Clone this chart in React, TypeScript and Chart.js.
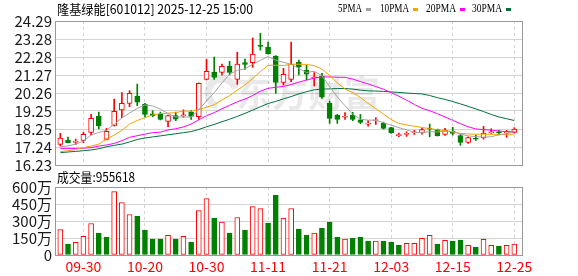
import React, { useEffect, useRef } from "react";
import { Chart, registerables } from "chart.js";

Chart.register(...registerables);

// ---------------- data ----------------
const stockName = "隆基绿能";
const stockCode = "601012";
const stamp = "2025-12-25 15:00";

const dates = [
  "09-25", "09-26", "09-29", "09-30", "10-09", "10-10", "10-13", "10-14", "10-15", "10-16",
  "10-17", "10-20", "10-21", "10-22", "10-23", "10-24", "10-27", "10-28", "10-29", "10-30",
  "10-31", "11-03", "11-04", "11-05", "11-06", "11-07", "11-10", "11-11", "11-12", "11-13",
  "11-14", "11-17", "11-18", "11-19", "11-20", "11-21", "11-24", "11-25", "11-26", "11-27",
  "11-28", "12-01", "12-02", "12-03", "12-04", "12-05", "12-08", "12-09", "12-10", "12-11",
  "12-12", "12-15", "12-16", "12-17", "12-18", "12-19", "12-22", "12-23", "12-24", "12-25",
];

const openP = [
  17.38, 17.63, 17.50, 17.61, 18.06, 18.95, 17.66, 18.45, 19.31, 19.68,
  20.09, 19.62, 19.10, 19.06, 18.67, 18.99, 18.99, 19.19, 18.93, 21.02,
  21.43, 21.41, 21.77, 21.02, 21.96, 21.96, 22.93, 22.81, 22.33, 20.85,
  21.02, 21.97, 21.54, 21.12, 21.21, 19.68, 19.03, 18.91, 19.03, 18.76,
  18.52, 18.73, 18.56, 18.32, 17.87, 17.94, 18.02, 18.04, 18.28, 18.21,
  17.94, 18.11, 17.87, 17.50, 17.72, 17.74, 18.04, 18.09, 18.02, 18.06,
];
const highP = [
  18.00, 17.79, 17.68, 18.06, 19.06, 19.19, 18.28, 19.92, 20.28, 20.39,
  20.76, 19.68, 19.27, 19.19, 19.03, 19.19, 19.32, 19.27, 20.82, 22.14,
  22.27, 21.88, 22.03, 22.55, 22.16, 23.34, 23.60, 23.11, 22.35, 21.64,
  23.11, 22.10, 21.81, 21.40, 21.36, 19.80, 19.06, 19.16, 19.18, 19.06,
  18.71, 18.88, 18.63, 18.34, 18.02, 18.09, 18.17, 18.28, 18.52, 18.24,
  18.28, 18.34, 17.94, 17.81, 17.91, 18.39, 18.26, 18.17, 18.17, 18.32,
];
const lowP = [
  17.29, 17.46, 17.38, 17.48, 17.91, 18.26, 17.63, 18.41, 18.88, 19.49,
  19.55, 18.93, 18.93, 18.75, 18.37, 18.71, 18.90, 18.78, 18.78, 20.99,
  21.02, 21.27, 21.27, 20.74, 21.58, 21.70, 22.66, 22.44, 20.24, 20.71,
  20.89, 21.27, 20.99, 20.65, 19.96, 18.56, 18.56, 18.78, 18.71, 18.54,
  18.41, 18.50, 18.24, 18.00, 17.81, 17.83, 17.94, 17.96, 17.81, 17.85,
  17.89, 17.91, 17.33, 17.44, 17.61, 17.68, 18.00, 17.91, 17.78, 18.02,
];
const closeP = [
  17.74, 17.48, 17.55, 17.94, 18.84, 18.43, 18.11, 19.23, 19.68, 20.24,
  19.74, 19.06, 18.99, 18.78, 18.99, 18.80, 19.04, 18.95, 20.80, 21.47,
  21.13, 21.75, 21.41, 21.88, 21.86, 22.44, 22.87, 22.46, 20.85, 21.30,
  21.86, 21.73, 21.32, 21.17, 20.02, 18.84, 18.78, 18.95, 18.78, 18.62,
  18.58, 18.76, 18.28, 18.04, 17.93, 18.00, 18.06, 18.21, 18.24, 17.87,
  18.17, 18.00, 17.50, 17.76, 17.68, 18.02, 18.09, 18.04, 18.09, 18.24,
];

const ma5 = [
  17.25, 17.30, 17.40, 17.56, 17.91, 18.05, 18.17, 18.51, 18.86, 19.14,
  19.40, 19.59, 19.54, 19.36, 19.11, 18.92, 18.92, 18.91, 19.32, 19.81,
  20.28, 20.82, 21.31, 21.53, 21.61, 21.87, 22.09, 22.30, 22.10, 21.98,
  21.87, 21.64, 21.41, 21.48, 21.22, 20.62, 20.03, 19.55, 19.07, 18.79,
  18.74, 18.74, 18.60, 18.46, 18.32, 18.20, 18.06, 18.05, 18.09, 18.08,
  18.11, 18.10, 17.96, 17.86, 17.82, 17.79, 17.81, 17.92, 17.98, 18.10,
];
const ma10 = [
  16.97, 17.03, 17.10, 17.20, 17.29, 17.40, 17.68, 17.90, 18.17, 18.52,
  18.72, 18.88, 19.03, 19.11, 19.13, 19.16, 19.26, 19.23, 19.34, 19.46,
  19.60, 19.87, 20.11, 20.42, 20.71, 21.07, 21.46, 21.81, 21.81, 21.80,
  21.87, 21.87, 21.86, 21.79, 21.60, 21.24, 20.83, 20.48, 20.28, 20.01,
  19.68, 19.38, 19.08, 18.77, 18.56, 18.47, 18.40, 18.33, 18.27, 18.20,
  18.16, 18.08, 18.00, 17.97, 17.95, 17.95, 17.95, 17.94, 17.92, 17.96,
];
const ma20 = [
  17.16, 17.16, 17.16, 17.17, 17.20, 17.29, 17.35, 17.44, 17.59, 17.78,
  17.87, 17.96, 18.04, 18.07, 18.19, 18.26, 18.36, 18.52, 18.76, 18.99,
  19.16, 19.38, 19.57, 19.77, 19.92, 20.12, 20.36, 20.52, 20.58, 20.63,
  20.73, 20.87, 20.98, 21.10, 21.16, 21.16, 21.14, 21.14, 21.04, 20.90,
  20.77, 20.62, 20.47, 20.28, 20.08, 19.86, 19.62, 19.40, 19.27, 19.10,
  18.92, 18.73, 18.54, 18.37, 18.25, 18.21, 18.18, 18.13, 18.10, 18.08,
];
const ma30 = [
  16.92, 16.96, 16.99, 17.03, 17.07, 17.14, 17.25, 17.33, 17.40, 17.52,
  17.66, 17.74, 17.80, 17.86, 17.92, 17.98, 18.04, 18.10, 18.22, 18.37,
  18.50, 18.65, 18.79, 18.95, 19.12, 19.30, 19.49, 19.67, 19.79, 19.93,
  20.06, 20.21, 20.33, 20.44, 20.48, 20.49, 20.51, 20.51, 20.48, 20.42,
  20.38, 20.37, 20.35, 20.32, 20.29, 20.26, 20.23, 20.21, 20.12, 20.00,
  19.90, 19.78, 19.65, 19.51, 19.37, 19.22, 19.06, 18.92, 18.82, 18.72,
];

// volume in 万 (10k shares)
const volume = [
  225, 97, 111, 164, 278, 193, 158, 559, 462, 357,
  342, 220, 140, 140, 173, 140, 164, 114, 392, 498,
  325, 290, 193, 331, 220, 427, 410, 281, 527, 325,
  410, 228, 176, 193, 237, 290, 158, 140, 149, 158,
  123, 123, 123, 114, 88, 102, 102, 146, 173, 97,
  129, 123, 132, 85, 70, 138, 85, 79, 85, 95.5618,
];
// 1 = rising day (red hollow volume bar), 0 = falling day (green filled)
const volumeUp = [
  1, 0, 1, 1, 1, 0, 0, 1, 1, 1,
  0, 0, 0, 0, 1, 0, 1, 0, 1, 1,
  0, 1, 0, 1, 0, 1, 1, 0, 0, 1,
  1, 0, 0, 1, 0, 0, 0, 1, 0, 0,
  0, 1, 0, 0, 0, 1, 1, 1, 1, 0,
  1, 0, 0, 1, 0, 1, 1, 0, 1, 1,
];
const lastVolume = "955618";

const priceMin = 16.23;
const priceMax = 24.29;
const priceTickLabels = ["16.23", "17.24", "18.25", "19.25", "20.26", "21.27", "22.28", "23.28", "24.29"];
const volumeTickValues = [0, 150, 300, 450, 600];
const volumeTickLabels = ["0", "150万", "300万", "450万", "600万"];
const xTickLabels = ["09-30", "10-20", "10-30", "11-11", "11-21", "12-03", "12-15", "12-25"];
const maNames = ["5PMA", "10PMA", "20PMA", "30PMA"];

// ---------------- style ----------------
const W = 578;
const H = 276;
const X_MIN = -0.69;
const X_MAX = 60.0;
const RED = "#ff0000";
const GREEN = "#008000";
const MA_COLORS = ["#a3a3a3", "#f2a400", "#ff00ff", "#00703a"];
const FRAME = "#999999";
const GRID = "#d4d4d4";
const NARROW = "'Liberation Sans Narrow', 'Arial Narrow', 'Noto Sans CJK SC', sans-serif";
const CJK = "'Noto Sans CJK SC', 'Liberation Sans Narrow', sans-serif";

const xScale = (showLabels: boolean) => ({
  type: "linear" as const,
  min: X_MIN,
  max: X_MAX,
  offset: false,
  bounds: "data" as const,
  afterBuildTicks: (s: any) => {
    s.ticks = xTickLabels.map((l) => ({ value: dates.indexOf(l) }));
  },
  afterFit: (s: any) => {
    s.height = showLabels ? 21 : 0;
  },
  grid: { color: GRID, lineWidth: 1, drawTicks: false, offset: false },
  border: { display: false, dash: [3, 3] },
  ticks: {
    display: showLabels,
    autoSkip: false,
    maxRotation: 0,
    padding: 3,
    color: RED,
    font: { family: NARROW, size: 14 },
    callback: (v: any) => dates[Math.round(Number(v))],
  },
});

const yScale = (min: number, max: number, values: number[], labels: string[]) => ({
  type: "linear" as const,
  min,
  max,
  afterBuildTicks: (s: any) => {
    s.ticks = values.map((v) => ({ value: v }));
  },
  afterFit: (s: any) => {
    s.width = 55;
  },
  grid: { color: GRID, drawTicks: false },
  border: { display: false },
  ticks: {
    autoSkip: false,
    padding: 3,
    color: "#1a1a1a",
    font: { family: NARROW, size: 15 },
    callback: (_v: any, i: number) => labels[i],
  },
});

const framePlugin = {
  id: "frame",
  beforeDatasetsDraw(chart: any) {
    const { ctx, chartArea: a } = chart;
    ctx.save();
    ctx.strokeStyle = FRAME;
    ctx.lineWidth = 1;
    ctx.strokeRect(
      Math.round(a.left) + 0.5,
      Math.round(a.top) + 0.5,
      Math.round(a.right) - Math.round(a.left),
      Math.round(a.bottom) - Math.round(a.top)
    );
    ctx.restore();
  },
};

const watermarkPlugin = {
  id: "watermark",
  beforeDatasetsDraw(chart: any) {
    const { ctx } = chart;
    ctx.save();
    ctx.fillStyle = "rgba(0,0,0,0.085)";
    ctx.strokeStyle = "rgba(0,0,0,0.085)";
    ctx.lineWidth = 7;
    ctx.beginPath();
    ctx.arc(222, 93, 14, Math.PI * 0.6, Math.PI * 1.9);
    ctx.stroke();
    ctx.font = `bold 36px ${CJK}`;
    ctx.textBaseline = "middle";
    ctx.textAlign = "left";
    ctx.fillText("东方财富", 236, 93, 146);
    ctx.restore();
  },
};

const textPlugin = {
  id: "texts",
  afterDraw(chart: any) {
    const { ctx } = chart;
    ctx.save();
    ctx.textBaseline = "middle";
    ctx.textAlign = "left";
    ctx.fillStyle = "#000";
    ctx.font = `13px ${CJK}`;
    ctx.fillText(`${stockName}[${stockCode}] ${stamp}`, 57, 9, 196);

    const legendX = [338, 380, 426, 472];
    const legendW = [24, 29, 30, 30];
    ctx.font = "13px 'Liberation Serif', serif";
    maNames.forEach((n, i) => {
      ctx.fillStyle = "#000";
      ctx.fillText(n, legendX[i], 9, legendW[i]);
      ctx.fillStyle = MA_COLORS[i];
      ctx.fillRect(legendX[i] + legendW[i] + 4, 8, 5, 3);
    });

    ctx.fillStyle = "#000";
    ctx.font = `13px ${CJK}`;
    ctx.fillText(`成交量:${lastVolume}`, 57, 177, 78);
    ctx.restore();
  },
};

export default function App() {
  const priceRef = useRef<HTMLCanvasElement>(null);
  const volRef = useRef<HTMLCanvasElement>(null);

  useEffect(() => {
    const up = closeP.map((c, i) => c >= openP[i]);
    const maSets = [ma5, ma10, ma20, ma30].map((arr, k) => ({
      type: "line" as const,
      label: maNames[k],
      data: arr.map((v, i) => ({ x: i, y: v })),
      borderColor: MA_COLORS[k],
      borderWidth: 1,
      pointRadius: 0,
      tension: 0,
      order: k + 1,
    }));
    const priceTickValues = priceTickLabels.map(
      (_, i) => priceMin + (i * (priceMax - priceMin)) / (priceTickLabels.length - 1)
    );

    const price = new Chart(priceRef.current as HTMLCanvasElement, {
      type: "bar",
      data: {
        datasets: [
          ...maSets,
          {
            type: "bar" as const,
            label: "body",
            data: openP.map((o, i) => ({ x: i, y: [Math.min(o, closeP[i]), Math.max(o, closeP[i])] })) as any,
            backgroundColor: up.map((u) => (u ? "#ffffff" : GREEN)),
            borderColor: up.map((u) => (u ? RED : GREEN)),
            borderWidth: 1,
            borderSkipped: false,
            barThickness: 5,
            grouped: false,
            order: 5,
          },
          {
            type: "bar" as const,
            label: "wick",
            data: lowP.map((l, i) => ({ x: i, y: [l, highP[i]] })) as any,
            backgroundColor: up.map((u) => (u ? RED : GREEN)),
            borderWidth: 0,
            barThickness: 1,
            grouped: false,
            order: 6,
          },
        ] as any,
      },
      options: {
        animation: false,
        responsive: false,
        devicePixelRatio: 1,
        events: [],
        layout: { padding: { left: 0, right: W - 522, top: 21, bottom: H - 165 } },
        plugins: { legend: { display: false }, tooltip: { enabled: false } },
        scales: {
          x: xScale(false) as any,
          y: yScale(priceMin, priceMax, priceTickValues, priceTickLabels) as any,
        },
      },
      plugins: [framePlugin, watermarkPlugin],
    });

    const vol = new Chart(volRef.current as HTMLCanvasElement, {
      type: "bar",
      data: {
        datasets: [
          {
            label: "volume",
            data: volume.map((v, i) => ({ x: i, y: v })) as any,
            backgroundColor: volumeUp.map((u) => (u ? "#ffffff" : GREEN)),
            borderColor: volumeUp.map((u) => (u ? RED : GREEN)),
            borderWidth: 1,
            borderSkipped: false,
            barThickness: 5,
          },
        ],
      },
      options: {
        animation: false,
        responsive: false,
        devicePixelRatio: 1,
        events: [],
        layout: { padding: { left: 0, right: W - 522, top: 187, bottom: 0 } },
        plugins: { legend: { display: false }, tooltip: { enabled: false } },
        scales: {
          x: xScale(true) as any,
          y: yScale(0, 600, volumeTickValues, volumeTickLabels) as any,
        },
      },
      plugins: [framePlugin, textPlugin],
    });

    return () => {
      price.destroy();
      vol.destroy();
    };
  }, []);

  return (
    <div style={{ position: "absolute", left: 0, top: 0, width: W, height: H, background: "#ffffff" }}>
      <canvas ref={priceRef} width={W} height={H} style={{ position: "absolute", left: 0, top: 0 }} />
      <canvas ref={volRef} width={W} height={H} style={{ position: "absolute", left: 0, top: 0 }} />
    </div>
  );
}
